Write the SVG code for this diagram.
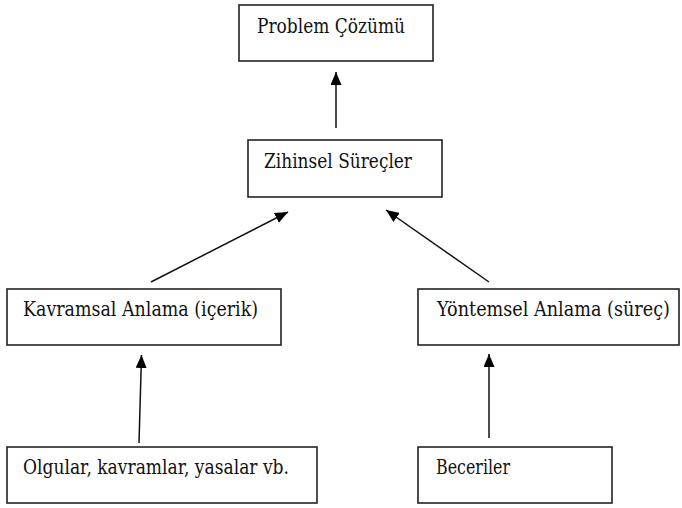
<svg xmlns="http://www.w3.org/2000/svg" width="682" height="508" viewBox="0 0 682 508">
<style>
.box{fill:#fff;stroke:#222;stroke-width:1.6}
.lbl{font-family:'DejaVu Serif','Liberation Serif',serif;font-size:21px;fill:#111}
.conn{stroke:#111;stroke-width:1.5;fill:none;marker-end:url(#ah)}
</style>
<defs>
<marker id="ah" markerUnits="userSpaceOnUse" markerWidth="13" markerHeight="11" refX="13" refY="5.5" orient="auto">
<path d="M0,0 L13,5.5 L0,11 z" fill="#000"/>
</marker>
</defs>
<rect width="682" height="508" fill="#fff"/>
<g id="connectors">
<line class="conn" x1="336" y1="128" x2="336" y2="72"/>
<line class="conn" x1="151" y1="282" x2="288" y2="212"/>
<line class="conn" x1="489" y1="282" x2="386" y2="210"/>
<line class="conn" x1="139" y1="443" x2="141.5" y2="355"/>
<line class="conn" x1="489" y1="438" x2="489" y2="354"/>
</g>
<g id="problem-cozumu">
<rect class="box" x="239" y="5" width="194" height="56"/>
<text class="lbl" x="257" y="33" textLength="148" lengthAdjust="spacingAndGlyphs">Problem Çözümü</text>
</g>
<g id="zihinsel-surecler">
<rect class="box" x="248" y="140" width="194" height="57"/>
<text class="lbl" x="264" y="168" textLength="148" lengthAdjust="spacingAndGlyphs">Zihinsel Süreçler</text>
</g>
<g id="kavramsal-anlama">
<rect class="box" x="7" y="289" width="274" height="56"/>
<text class="lbl" x="23" y="316" textLength="235" lengthAdjust="spacingAndGlyphs">Kavramsal Anlama (içerik)</text>
</g>
<g id="yontemsel-anlama">
<rect class="box" x="418" y="289" width="261" height="56"/>
<text class="lbl" transform="translate(437 316) scale(0.844 1)" x="0" y="0" textLength="276" lengthAdjust="spacingAndGlyphs">Yöntemsel Anlama (süreç)</text>
</g>
<g id="olgular">
<rect class="box" x="7" y="447" width="310" height="56"/>
<text class="lbl" x="23" y="474" textLength="266" lengthAdjust="spacingAndGlyphs">Olgular, kavramlar, yasalar vb.</text>
</g>
<g id="beceriler">
<rect class="box" x="418" y="447" width="194" height="56"/>
<text class="lbl" x="436" y="474" textLength="74" lengthAdjust="spacingAndGlyphs">Beceriler</text>
</g>
</svg>
